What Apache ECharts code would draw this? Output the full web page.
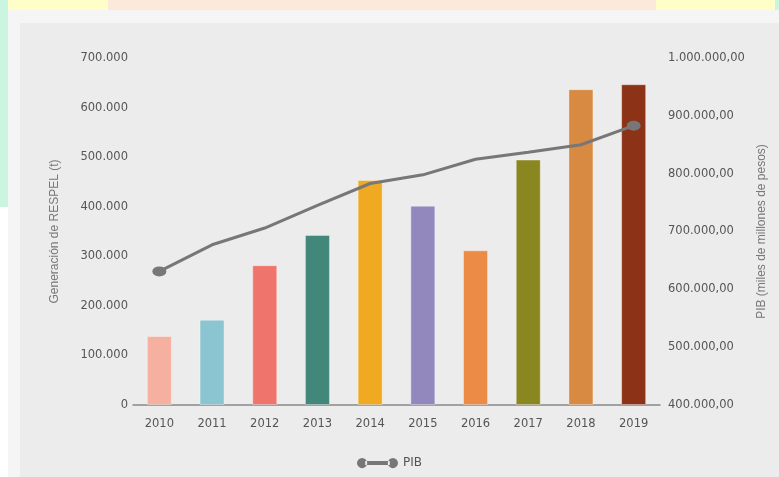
<!DOCTYPE html>
<html>
<head>
<meta charset="utf-8">
<script src="https://cdn.jsdelivr.net/npm/echarts@6/dist/echarts.min.js"></script>
<style>
html,body{margin:0;padding:0;background:#ffffff;}
#chart{width:779px;height:477px;}
</style>
</head>
<body>
<div id="chart"></div>
<script>
const years = ['2010','2011','2012','2013','2014','2015','2016','2017','2018','2019'];
const respel = [139000, 172000, 282000, 343000, 454000, 402000, 312000, 495000, 637000, 647000];
const pib = [631000, 677000, 706000, 745000, 783000, 798000, 825000, 837000, 850000, 883000];
const barColors = ['#f5b0a0','#8cc5d2','#ef746c','#42877a','#efaa22','#9388bd','#ec8b45','#8a8620','#d98a42','#8c3216'];
const leftTicks = [0, 100000, 700000];
const rightTicks = [400000, 100000, 1000000];

function fmtThousands(v){
  return String(Math.round(v)).replace(/\B(?=(\d{3})+(?!\d))/g, '.');
}

const chart = echarts.init(document.getElementById('chart'), null, {renderer:'canvas'});
const labelFont = {color:'#555', fontFamily:'DejaVu Sans', fontSize:11.5};

const option = {
  backgroundColor:'#ffffff',
  animation:false,
  graphic:{
    elements:[
      {type:'group', silent:true, z:0, children:[
        {type:'rect', shape:{x:0,y:0,width:8,height:207}, style:{fill:'#c9f5e1'}},
        {type:'rect', shape:{x:8,y:0,width:100,height:10}, style:{fill:'#fffdc8'}},
        {type:'rect', shape:{x:108,y:0,width:548,height:10}, style:{fill:'#fce9da'}},
        {type:'rect', shape:{x:656,y:0,width:119,height:10}, style:{fill:'#fffdc8'}},
        {type:'rect', shape:{x:775,y:0,width:4,height:10}, style:{fill:'#c9f5e1'}},
        {type:'rect', shape:{x:8,y:10,width:771,height:467}, style:{fill:'#f5f5f5'}},
        {type:'rect', shape:{x:20,y:23,width:759,height:454}, style:{fill:'#ececec'}}
      ]}
    ]
  },
  grid:{left:133, right:119, top:58, bottom:72, containLabel:false},
  legend:{
    bottom:3, left:'center',
    data:['PIB'],
    icon:'path://M0,5A5,5,0,1,0,10,5A5,5,0,1,0,0,5Z M30,5A5,5,0,1,0,40,5A5,5,0,1,0,30,5Z M8,3L32,3L32,7L8,7Z',
    itemWidth:41, itemHeight:11, itemGap:10,
    textStyle:{color:'#555', fontFamily:'DejaVu Sans', fontSize:12}
  },
  xAxis:{
    type:'category', data:years,
    axisLine:{show:true, lineStyle:{color:'#888', width:1.5}},
    axisTick:{show:false},
    axisLabel:Object.assign({margin:13}, labelFont)
  },
  yAxis:[
    {
      type:'value', min:leftTicks[0], max:leftTicks[2], interval:leftTicks[1],
      name:'Generación de RESPEL (t)', nameLocation:'middle', nameGap:72, nameRotate:90,
      nameTextStyle:{color:'#777', fontFamily:'Liberation Sans Narrow, Liberation Sans', fontSize:12},
      axisLine:{show:false}, axisTick:{show:false}, splitLine:{show:false},
      axisLabel:Object.assign({margin:5, formatter:v=>fmtThousands(v)}, labelFont)
    },
    {
      type:'value', min:rightTicks[0], max:rightTicks[2], interval:rightTicks[1],
      name:'PIB (miles de millones de pesos)', nameLocation:'middle', nameGap:96, nameRotate:90,
      nameTextStyle:{color:'#777', fontFamily:'Liberation Sans Narrow, Liberation Sans', fontSize:12},
      axisLine:{show:false}, axisTick:{show:false}, splitLine:{show:false},
      axisLabel:Object.assign({margin:8, formatter:v=>fmtThousands(v)+',00'}, labelFont)
    }
  ],
  series:[
    {
      name:'RESPEL', type:'bar', yAxisIndex:0, barWidth:25,
      data:respel.map((v,i)=>({value:v, itemStyle:{color:barColors[i]}})),
      itemStyle:{borderColor:'rgba(255,255,255,0.35)', borderWidth:1}
    },
    {
      name:'PIB', type:'line', yAxisIndex:1,
      data:pib.map((v,i)=> (i===0||i===pib.length-1) ? {value:v, symbol:'circle', symbolSize:[14,10]} : {value:v, symbol:'none'}),
      lineStyle:{color:'#777', width:3},
      itemStyle:{color:'#777'},
      z:5
    }
  ]
};
chart.setOption(option);
</script>
</body>
</html>
